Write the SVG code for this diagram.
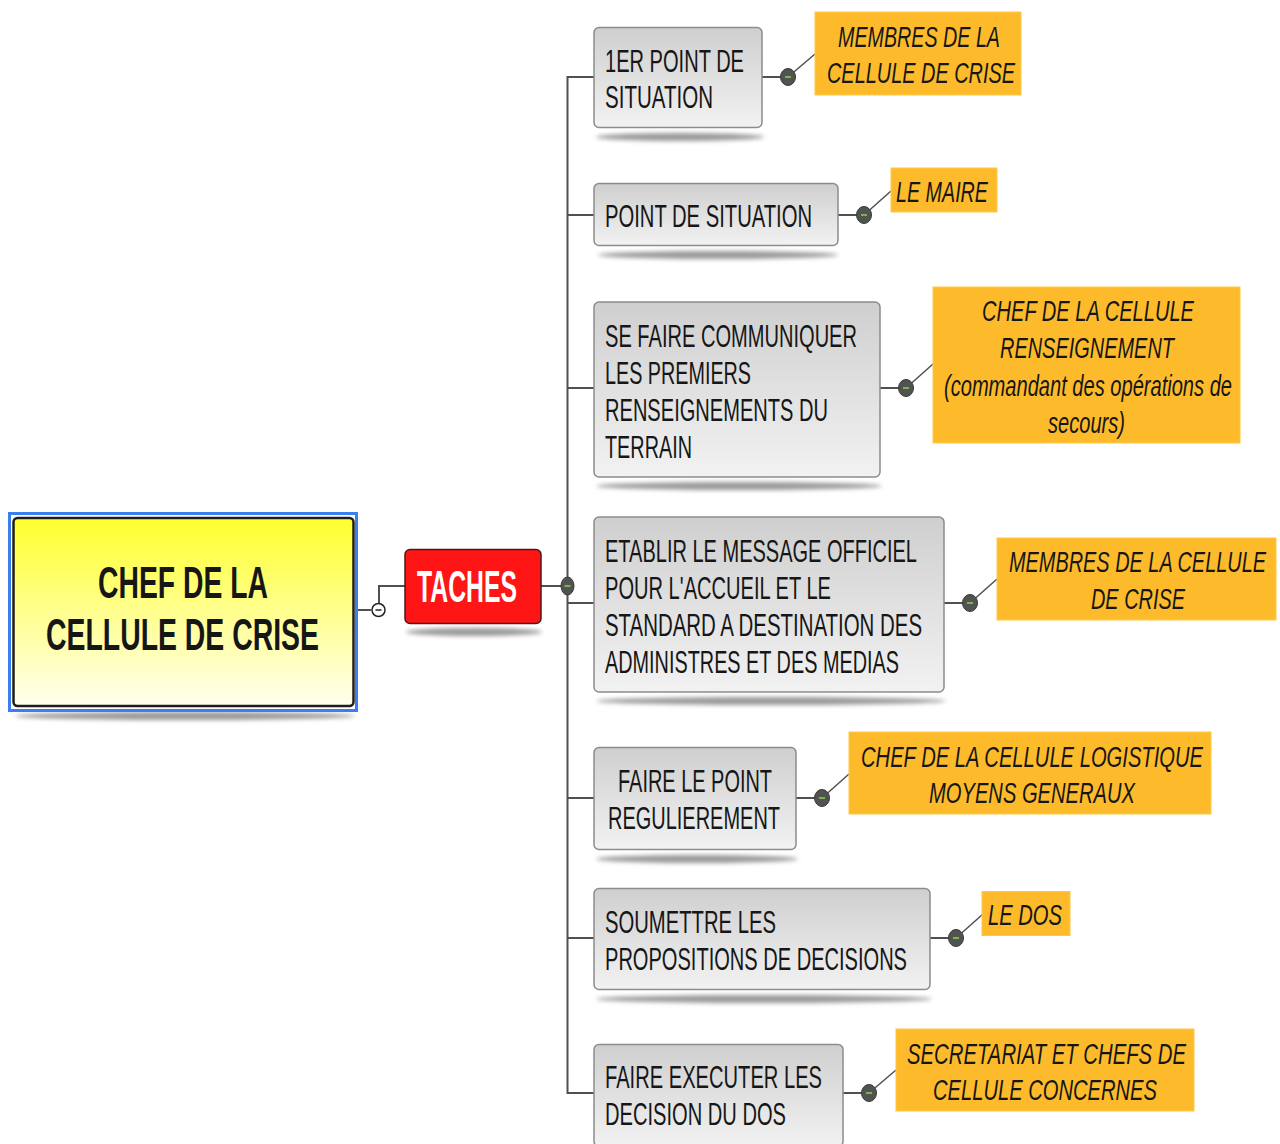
<svg xmlns="http://www.w3.org/2000/svg" width="1280" height="1144" viewBox="0 0 1280 1144">
<style>
  .t { font-family: "Liberation Sans", Arial, sans-serif; fill: #161616; }
  .ct { font-size: 32px; }
  .ot { font-size: 29px; font-style: italic; }
  .box { fill: url(#gGray); stroke: #8c8c8c; stroke-width: 1.5; }
  .ora { fill: #fdbb2b; stroke: #ffc845; stroke-width: 1; }
  .sh { fill: #9a9a9a; filter: url(#blur); }
  .con { fill: none; stroke: #505050; stroke-width: 2; }
  .diag { fill: none; stroke: #505050; stroke-width: 1.5; }
  .dot { fill: #4f5450; stroke: #3a3a3a; stroke-width: 1; }
  .mark { fill: #7fb24a; }
</style>
<defs>
  <linearGradient id="gGray" x1="0" y1="0" x2="0" y2="1">
    <stop offset="0" stop-color="#cfcfcf"/>
    <stop offset="1" stop-color="#f2f2f2"/>
  </linearGradient>
  <linearGradient id="gYellow" x1="0" y1="0" x2="0" y2="1">
    <stop offset="0" stop-color="#ffff2e"/>
    <stop offset="1" stop-color="#fffff0"/>
  </linearGradient>
  <filter id="blur" x="-10%" y="-100%" width="120%" height="300%">
    <feGaussianBlur stdDeviation="2"/>
  </filter>
</defs>
<rect width="1280" height="1144" fill="#ffffff"/>

<!-- shadows -->
<g id="shadows">
  <ellipse class="sh" cx="185" cy="716" rx="170" ry="4"/>
  <ellipse class="sh" cx="474" cy="632" rx="68" ry="4"/>
  <ellipse class="sh" cx="680" cy="137" rx="84" ry="4"/>
  <ellipse class="sh" cx="718" cy="255" rx="120" ry="4"/>
  <ellipse class="sh" cx="739" cy="486" rx="143" ry="4"/>
  <ellipse class="sh" cx="771" cy="701" rx="175" ry="4"/>
  <ellipse class="sh" cx="697" cy="859" rx="101" ry="4"/>
  <ellipse class="sh" cx="764" cy="999" rx="168" ry="4"/>
</g>

<!-- connectors -->
<g id="connectors">
  <path class="con" d="M357 610 H371"/>
  <path class="con" d="M379 603 V586 H405"/>
  <path class="con" d="M541 586 H567"/>
  <path class="con" d="M594 77 H567.5 V1093 H594"/>
  <path class="con" d="M567.5 215 H594 M567.5 388 H594 M567.5 603 H594 M567.5 798 H594 M567.5 938 H594"/>
  <path class="con" d="M762 77 H788 M838 215 H864 M880 388 H906 M944 603 H970 M796 798 H822 M930 938 H956 M843 1093 H869"/>
  <path class="diag" d="M788 77 L815 54 M864 215 L891 191 M906 388 L933 364 M970 603 L997 579 M822 798 L849 774 M956 938 L983 914 M869 1093 L896 1070"/>
  <circle cx="378.5" cy="610" r="6.5" fill="#ffffff" stroke="#222222" stroke-width="1.5"/>
  <path d="M375.5 610 H381.5" stroke="#222222" stroke-width="1.5"/>
  <ellipse class="dot" cx="567.5" cy="586" rx="6.5" ry="9"/>
  <rect class="mark" x="564.5" y="585" width="6" height="2"/>
  <g>
    <ellipse class="dot" cx="788" cy="77" rx="7.5" ry="8.5"/><rect class="mark" x="785" y="76" width="6" height="2"/>
    <ellipse class="dot" cx="864" cy="215" rx="7.5" ry="8.5"/><rect class="mark" x="861" y="214" width="6" height="2"/>
    <ellipse class="dot" cx="906" cy="388" rx="7.5" ry="8.5"/><rect class="mark" x="903" y="387" width="6" height="2"/>
    <ellipse class="dot" cx="970" cy="603" rx="7.5" ry="8.5"/><rect class="mark" x="967" y="602" width="6" height="2"/>
    <ellipse class="dot" cx="822" cy="798" rx="7.5" ry="8.5"/><rect class="mark" x="819" y="797" width="6" height="2"/>
    <ellipse class="dot" cx="956" cy="938" rx="7.5" ry="8.5"/><rect class="mark" x="953" y="937" width="6" height="2"/>
    <ellipse class="dot" cx="869" cy="1093" rx="7.5" ry="8.5"/><rect class="mark" x="866" y="1092" width="6" height="2"/>
  </g>
</g>

<!-- root -->
<g id="root">
  <rect x="9.5" y="513.5" width="347" height="197" fill="none" stroke="#3b7ef0" stroke-width="3"/>
  <rect x="13.5" y="518" width="340" height="188" rx="4" fill="url(#gYellow)" stroke="#1e1e1e" stroke-width="2.5"/>
  <text class="t" x="98" y="598" font-size="44" font-weight="bold" textLength="170" lengthAdjust="spacingAndGlyphs">CHEF DE LA</text>
  <text class="t" x="46" y="650" font-size="44" font-weight="bold" textLength="273" lengthAdjust="spacingAndGlyphs">CELLULE DE CRISE</text>
</g>

<!-- TACHES -->
<g id="taches">
  <rect x="405" y="549.5" width="136" height="74" rx="5" fill="#ff1515" stroke="#4a1a1a" stroke-width="1.5"/>
  <text class="t" x="417" y="602" font-size="44" font-weight="bold" style="fill:#ffffff" textLength="100" lengthAdjust="spacingAndGlyphs">TACHES</text>
</g>

<!-- task nodes -->
<g id="n1">
  <rect class="box" x="594" y="27.5" width="168" height="100" rx="5"/>
  <text class="t ct" x="605" y="72" textLength="139" lengthAdjust="spacingAndGlyphs">1ER POINT DE</text>
  <text class="t ct" x="605" y="108" textLength="108" lengthAdjust="spacingAndGlyphs">SITUATION</text>
</g>
<g id="n2">
  <rect class="box" x="594" y="183.5" width="244" height="62" rx="5"/>
  <text class="t ct" x="605" y="227" textLength="207" lengthAdjust="spacingAndGlyphs">POINT DE SITUATION</text>
</g>
<g id="n3">
  <rect class="box" x="594" y="302" width="286" height="175" rx="5"/>
  <text class="t ct" x="605" y="347" textLength="252" lengthAdjust="spacingAndGlyphs">SE FAIRE COMMUNIQUER</text>
  <text class="t ct" x="605" y="384" textLength="146" lengthAdjust="spacingAndGlyphs">LES PREMIERS</text>
  <text class="t ct" x="605" y="421" textLength="223" lengthAdjust="spacingAndGlyphs">RENSEIGNEMENTS DU</text>
  <text class="t ct" x="605" y="458" textLength="87" lengthAdjust="spacingAndGlyphs">TERRAIN</text>
</g>
<g id="n4">
  <rect class="box" x="594" y="517" width="350" height="175" rx="5"/>
  <text class="t ct" x="605" y="562" textLength="312" lengthAdjust="spacingAndGlyphs">ETABLIR LE MESSAGE OFFICIEL</text>
  <text class="t ct" x="605" y="599" textLength="226" lengthAdjust="spacingAndGlyphs">POUR L'ACCUEIL ET LE</text>
  <text class="t ct" x="605" y="636" textLength="317" lengthAdjust="spacingAndGlyphs">STANDARD A DESTINATION DES</text>
  <text class="t ct" x="605" y="673" textLength="294" lengthAdjust="spacingAndGlyphs">ADMINISTRES ET DES MEDIAS</text>
</g>
<g id="n5">
  <rect class="box" x="594" y="747.5" width="202" height="102" rx="5"/>
  <text class="t ct" x="618" y="792" textLength="154" lengthAdjust="spacingAndGlyphs">FAIRE LE POINT</text>
  <text class="t ct" x="608" y="829" textLength="172" lengthAdjust="spacingAndGlyphs">REGULIEREMENT</text>
</g>
<g id="n6">
  <rect class="box" x="594" y="888.5" width="336" height="101" rx="5"/>
  <text class="t ct" x="605" y="933" textLength="171" lengthAdjust="spacingAndGlyphs">SOUMETTRE LES</text>
  <text class="t ct" x="605" y="970" textLength="302" lengthAdjust="spacingAndGlyphs">PROPOSITIONS DE DECISIONS</text>
</g>
<g id="n7">
  <rect class="box" x="594" y="1044.5" width="249" height="102" rx="5"/>
  <text class="t ct" x="605" y="1088" textLength="217" lengthAdjust="spacingAndGlyphs">FAIRE EXECUTER LES</text>
  <text class="t ct" x="605" y="1125" textLength="181" lengthAdjust="spacingAndGlyphs">DECISION DU DOS</text>
</g>

<!-- responsible notes -->
<g id="r1">
  <rect class="ora" x="815" y="12" width="206" height="83"/>
  <text class="t ot" x="838" y="47" textLength="162" lengthAdjust="spacingAndGlyphs">MEMBRES DE LA</text>
  <text class="t ot" x="827" y="83" textLength="188" lengthAdjust="spacingAndGlyphs">CELLULE DE CRISE</text>
</g>
<g id="r2">
  <rect class="ora" x="891" y="168" width="106" height="44"/>
  <text class="t ot" x="896" y="202" textLength="92" lengthAdjust="spacingAndGlyphs">LE MAIRE</text>
</g>
<g id="r3">
  <rect class="ora" x="933" y="287" width="307" height="156"/>
  <text class="t ot" x="982" y="321" textLength="212" lengthAdjust="spacingAndGlyphs">CHEF DE LA CELLULE</text>
  <text class="t ot" x="1000" y="358" textLength="174" lengthAdjust="spacingAndGlyphs">RENSEIGNEMENT</text>
  <text class="t ot" x="944" y="396" textLength="288" lengthAdjust="spacingAndGlyphs">(commandant des opérations de</text>
  <text class="t ot" x="1048" y="433" textLength="77" lengthAdjust="spacingAndGlyphs">secours)</text>
</g>
<g id="r4">
  <rect class="ora" x="997" y="538" width="279" height="82"/>
  <text class="t ot" x="1009" y="572" textLength="257" lengthAdjust="spacingAndGlyphs">MEMBRES DE LA CELLULE</text>
  <text class="t ot" x="1091" y="609" textLength="94" lengthAdjust="spacingAndGlyphs">DE CRISE</text>
</g>
<g id="r5">
  <rect class="ora" x="849" y="732" width="362" height="82"/>
  <text class="t ot" x="861" y="767" textLength="342" lengthAdjust="spacingAndGlyphs">CHEF DE LA CELLULE LOGISTIQUE</text>
  <text class="t ot" x="929" y="803" textLength="206" lengthAdjust="spacingAndGlyphs">MOYENS GENERAUX</text>
</g>
<g id="r6">
  <rect class="ora" x="982" y="891.5" width="88" height="44"/>
  <text class="t ot" x="988" y="925" textLength="74" lengthAdjust="spacingAndGlyphs">LE DOS</text>
</g>
<g id="r7">
  <rect class="ora" x="896" y="1029" width="298" height="82"/>
  <text class="t ot" x="907" y="1064" textLength="279" lengthAdjust="spacingAndGlyphs">SECRETARIAT ET CHEFS DE</text>
  <text class="t ot" x="933" y="1100" textLength="224" lengthAdjust="spacingAndGlyphs">CELLULE CONCERNES</text>
</g>
</svg>
